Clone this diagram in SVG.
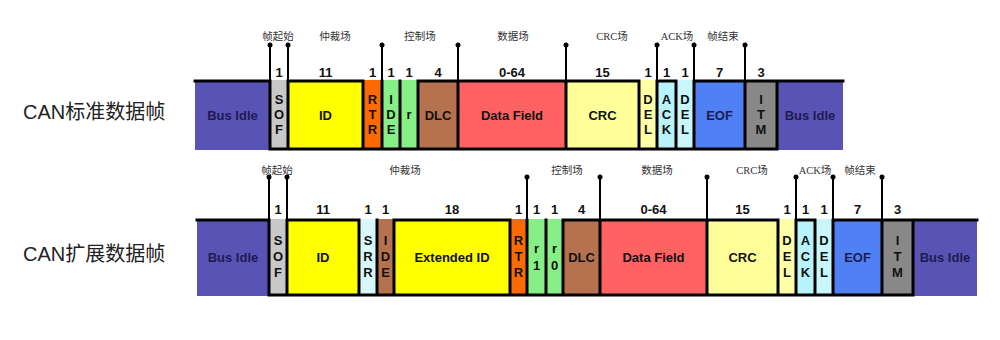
<svg xmlns="http://www.w3.org/2000/svg" width="1000" height="340" viewBox="0 0 1000 340">
<style>
.title{font-family:"Liberation Sans","Noto Sans CJK SC",sans-serif;font-size:20px;fill:#222}
.lbl{font-family:"Liberation Serif","Noto Sans CJK SC",serif;font-size:10.5px;fill:#333;text-anchor:middle}
.num{font-family:"Liberation Sans",Arial,sans-serif;font-size:13px;font-weight:bold;fill:#111;text-anchor:middle}
.t{font-family:"Liberation Sans",Arial,sans-serif;font-size:13px;font-weight:bold;fill:#111;text-anchor:middle}
.tb{font-family:"Liberation Sans",Arial,sans-serif;font-size:13px;font-weight:bold;fill:#1c1c50;text-anchor:middle}
.wave{fill:none;stroke:#000;stroke-width:3;stroke-linecap:square}
.pin{fill:none;stroke:#000;stroke-width:2}
.dot{fill:#000}
.idle{fill:#5a53b6}.sof{fill:#c8c8c8}.yel{fill:#ffff00}.org{fill:#ff6a00}.grn{fill:#86f086}
.brn{fill:#b6714f}.red{fill:#ff6262}.crc{fill:#ffff99}.del{fill:#ffffa8}.ack{fill:#b8f2fa}
.cyn{fill:#c8f6fb}.eof{fill:#4f80f4}.itm{fill:#888888}.srr{fill:#d8f8fc}
</style>

<text class="title" x="23" y="119">CAN标准数据帧</text>
<text class="title" x="23" y="261">CAN扩展数据帧</text>

<!-- Standard frame -->
<g id="std-frame">
<g id="s-busidle1"><rect class="idle" x="195" y="80" width="75" height="70"/><text class="tb" x="232.5" y="120">Bus Idle</text></g>
<g id="s-sof"><rect class="sof" x="270" y="80" width="18" height="70"/><text class="t" x="279" y="104">S</text><text class="t" x="279" y="119">O</text><text class="t" x="279" y="134">F</text><text class="num" x="279" y="77">1</text></g>
<g id="s-id"><rect class="yel" x="288" y="80" width="75" height="70"/><text class="t" x="325.5" y="120">ID</text><text class="num" x="325.5" y="77">11</text></g>
<g id="s-rtr"><rect class="org" x="363" y="80" width="19" height="70"/><text class="t" x="372.5" y="104">R</text><text class="t" x="372.5" y="119">T</text><text class="t" x="372.5" y="134">R</text><text class="num" x="372.5" y="77">1</text></g>
<g id="s-ide"><rect class="grn" x="382" y="80" width="18" height="70"/><text class="t" x="391" y="104">I</text><text class="t" x="391" y="119">D</text><text class="t" x="391" y="134">E</text><text class="num" x="391" y="77">1</text></g>
<g id="s-r"><rect class="grn" x="400" y="80" width="18" height="70"/><text class="t" x="409" y="119">r</text><text class="num" x="409" y="77">1</text></g>
<g id="s-dlc"><rect class="brn" x="418" y="80" width="40" height="70"/><text class="t" x="438" y="120">DLC</text><text class="num" x="438" y="77">4</text></g>
<g id="s-data"><rect class="red" x="458" y="80" width="108" height="70"/><text class="t" x="512" y="120">Data Field</text><text class="num" x="512" y="77">0-64</text></g>
<g id="s-crc"><rect class="crc" x="566" y="80" width="73" height="70"/><text class="t" x="602.5" y="120">CRC</text><text class="num" x="602.5" y="77">15</text></g>
<g id="s-del1"><rect class="del" x="639" y="80" width="18" height="70"/><text class="t" x="648" y="104">D</text><text class="t" x="648" y="119">E</text><text class="t" x="648" y="134">L</text><text class="num" x="648" y="77">1</text></g>
<g id="s-ack"><rect class="ack" x="657" y="80" width="19" height="70"/><text class="t" x="666.5" y="104">A</text><text class="t" x="666.5" y="119">C</text><text class="t" x="666.5" y="134">K</text><text class="num" x="666.5" y="77">1</text></g>
<g id="s-del2"><rect class="cyn" x="676" y="80" width="18" height="70"/><text class="t" x="685" y="104">D</text><text class="t" x="685" y="119">E</text><text class="t" x="685" y="134">L</text><text class="num" x="685" y="77">1</text></g>
<g id="s-eof"><rect class="eof" x="694" y="80" width="51" height="70"/><text class="tb" x="719.5" y="120">EOF</text><text class="num" x="719.5" y="77">7</text></g>
<g id="s-itm"><rect class="itm" x="745" y="80" width="32" height="70"/><text class="t" x="761" y="104">I</text><text class="t" x="761" y="119">T</text><text class="t" x="761" y="134">M</text><text class="num" x="761" y="77">3</text></g>
<g id="s-busidle2"><rect class="idle" x="777" y="80" width="66" height="70"/><text class="tb" x="810" y="120">Bus Idle</text></g>
<path class="wave" d="M195 81H270M288 81H363M418 81H639M657 81H676M694 81H843M270 149H777M270 81V149M288 81V149M363 81V149M382 81V149M400 81V149M418 81V149M458 81V149M566 81V149M639 81V149M657 81V149M676 81V149M694 81V149M745 81V149M777 81V149"/>
</g>

<!-- Extended frame -->
<g id="ext-frame">
<g id="e-busidle1"><rect class="idle" x="197" y="219" width="72" height="77"/><text class="tb" x="233" y="262">Bus Idle</text></g>
<g id="e-sof"><rect class="sof" x="269" y="219" width="18" height="77"/><text class="t" x="278" y="245">S</text><text class="t" x="278" y="261">O</text><text class="t" x="278" y="277">F</text><text class="num" x="278" y="214">1</text></g>
<g id="e-id"><rect class="yel" x="287" y="219" width="72" height="77"/><text class="t" x="323" y="262">ID</text><text class="num" x="323" y="214">11</text></g>
<g id="e-srr"><rect class="srr" x="359" y="219" width="18" height="77"/><text class="t" x="368" y="245">S</text><text class="t" x="368" y="261">R</text><text class="t" x="368" y="277">R</text><text class="num" x="368" y="214">1</text></g>
<g id="e-ide"><rect class="brn" x="377" y="219" width="17" height="77"/><text class="t" x="385.5" y="245">I</text><text class="t" x="385.5" y="261">D</text><text class="t" x="385.5" y="277">E</text><text class="num" x="385.5" y="214">1</text></g>
<g id="e-extid"><rect class="yel" x="394" y="219" width="116" height="77"/><text class="t" x="452" y="262">Extended ID</text><text class="num" x="452" y="214">18</text></g>
<g id="e-rtr"><rect class="org" x="510" y="219" width="17" height="77"/><text class="t" x="518.5" y="245">R</text><text class="t" x="518.5" y="261">T</text><text class="t" x="518.5" y="277">R</text><text class="num" x="518.5" y="214">1</text></g>
<g id="e-r1"><rect class="grn" x="527" y="219" width="19" height="77"/><text class="t" x="536.5" y="253">r</text><text class="t" x="536.5" y="270">1</text><text class="num" x="536.5" y="214">1</text></g>
<g id="e-r0"><rect class="grn" x="546" y="219" width="17" height="77"/><text class="t" x="554.5" y="253">r</text><text class="t" x="554.5" y="270">0</text><text class="num" x="554.5" y="214">1</text></g>
<g id="e-dlc"><rect class="brn" x="563" y="219" width="37" height="77"/><text class="t" x="581.5" y="262">DLC</text><text class="num" x="581.5" y="214">4</text></g>
<g id="e-data"><rect class="red" x="600" y="219" width="107" height="77"/><text class="t" x="653.5" y="262">Data Field</text><text class="num" x="653.5" y="214">0-64</text></g>
<g id="e-crc"><rect class="crc" x="707" y="219" width="71" height="77"/><text class="t" x="742.5" y="262">CRC</text><text class="num" x="742.5" y="214">15</text></g>
<g id="e-del1"><rect class="del" x="778" y="219" width="18" height="77"/><text class="t" x="787" y="245">D</text><text class="t" x="787" y="261">E</text><text class="t" x="787" y="277">L</text><text class="num" x="787" y="214">1</text></g>
<g id="e-ack"><rect class="ack" x="796" y="219" width="19" height="77"/><text class="t" x="805.5" y="245">A</text><text class="t" x="805.5" y="261">C</text><text class="t" x="805.5" y="277">K</text><text class="num" x="805.5" y="214">1</text></g>
<g id="e-del2"><rect class="cyn" x="815" y="219" width="18" height="77"/><text class="t" x="824" y="245">D</text><text class="t" x="824" y="261">E</text><text class="t" x="824" y="277">L</text><text class="num" x="824" y="214">1</text></g>
<g id="e-eof"><rect class="eof" x="833" y="219" width="49" height="77"/><text class="tb" x="857.5" y="262">EOF</text><text class="num" x="857.5" y="214">7</text></g>
<g id="e-itm"><rect class="itm" x="882" y="219" width="31" height="77"/><text class="t" x="897.5" y="245">I</text><text class="t" x="897.5" y="261">T</text><text class="t" x="897.5" y="277">M</text><text class="num" x="897.5" y="214">3</text></g>
<g id="e-busidle2"><rect class="idle" x="913" y="219" width="64" height="77"/><text class="tb" x="945" y="262">Bus Idle</text></g>
<path class="wave" d="M197 220H269M287 220H359M394 220H510M563 220H778M796 220H815M833 220H977M269 295H913M269 220V295M287 220V295M359 220V295M377 220V295M394 220V295M510 220V295M527 220V295M546 220V295M563 220V295M600 220V295M707 220V295M778 220V295M796 220V295M815 220V295M833 220V295M882 220V295M913 220V295"/>
</g>

<!-- Connectors: field boundary pins -->
<g id="connectors">
<path class="pin" d="M270 45V149M288 45V149M382 45V149M458 45V149M566 45V149M657 45V149M694 45V149M745 45V149"/>
<g class="dot"><circle cx="270" cy="45" r="2.5"/><circle cx="288" cy="45" r="2.5"/><circle cx="382" cy="45" r="2.5"/><circle cx="458" cy="45" r="2.5"/><circle cx="566" cy="45" r="2.5"/><circle cx="657" cy="45" r="2.5"/><circle cx="694" cy="45" r="2.5"/><circle cx="745" cy="45" r="2.5"/></g>
<path class="pin" d="M269 177V295M287 177V295M527 177V295M600 177V295M707 177V295M796 177V295M833 177V295M882 177V295"/>
<g class="dot"><circle cx="269" cy="177" r="2.5"/><circle cx="287" cy="177" r="2.5"/><circle cx="527" cy="177" r="2.5"/><circle cx="600" cy="177" r="2.5"/><circle cx="707" cy="177" r="2.5"/><circle cx="796" cy="177" r="2.5"/><circle cx="833" cy="177" r="2.5"/><circle cx="882" cy="177" r="2.5"/></g>
</g>

<g id="field-labels">
<text class="lbl" x="278" y="40">帧起始</text>
<text class="lbl" x="335" y="40">仲裁场</text>
<text class="lbl" x="420" y="40">控制场</text>
<text class="lbl" x="513" y="40">数据场</text>
<text class="lbl" x="612" y="40">CRC场</text>
<text class="lbl" x="677" y="40">ACK场</text>
<text class="lbl" x="723" y="40">帧结束</text>
<text class="lbl" x="277" y="174">帧起始</text>
<text class="lbl" x="405" y="174">仲裁场</text>
<text class="lbl" x="567" y="174">控制场</text>
<text class="lbl" x="657" y="174">数据场</text>
<text class="lbl" x="752" y="174">CRC场</text>
<text class="lbl" x="815" y="174">ACK场</text>
<text class="lbl" x="860" y="174">帧结束</text>
</g>
</svg>
